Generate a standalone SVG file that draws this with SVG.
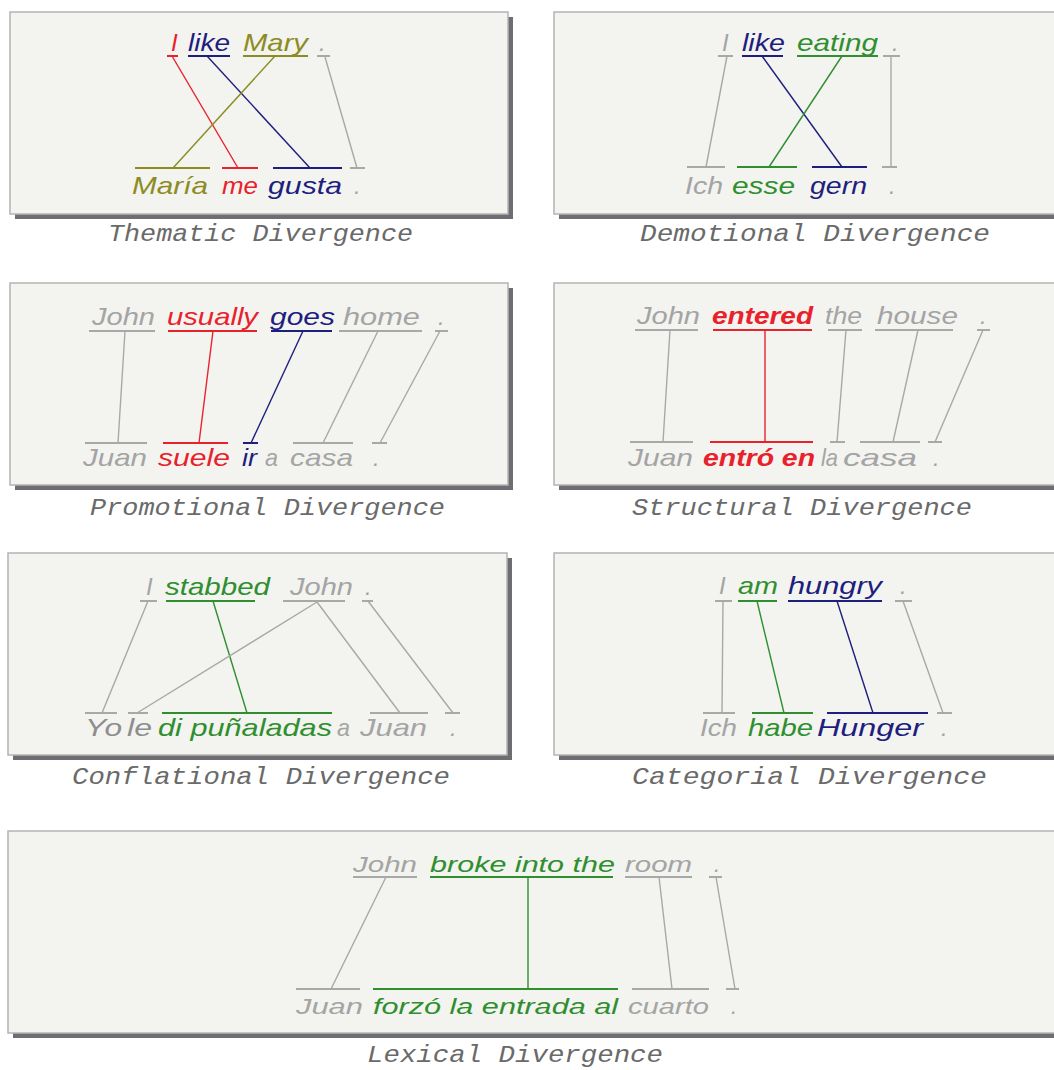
<svg xmlns="http://www.w3.org/2000/svg" width="1054" height="1070" viewBox="0 0 1054 1070">
<defs>
<style>
.box{fill:#f3f3f0;stroke:#b4b4b4;stroke-width:1.5}
.shadow{fill:#6e6e72}
.w{font-family:"Liberation Sans",Arial,sans-serif;font-style:italic;font-size:24px}
.w7{font-family:"Liberation Sans",Arial,sans-serif;font-style:italic;font-size:22px}
.cap{font-family:"Liberation Mono","Courier New",monospace;font-style:italic;font-size:23px;fill:#6a6a6a}
.g{fill:#a4a4a4}.r{fill:#e8212b}.b{fill:#1e1e7e}.o{fill:#8c8c22}.gr{fill:#2f8f2f}.dg{fill:#8e8e8e}
.u{stroke-width:2;fill:none}
.c{stroke-width:1.4;fill:none}
.sg{stroke:#a8a8a8}.sr{stroke:#e8212b}.sb{stroke:#1e1e7e}.so{stroke:#8c8c22}.sgr{stroke:#2f8f2f}
</style>
</defs>
<rect width="1054" height="1070" fill="#ffffff"/>

<!-- Panel 1 -->
<g id="panel-thematic">
<rect class="shadow" x="15" y="17" width="498" height="202"/>
<rect class="box" x="10" y="12" width="498" height="202"/>
<text class="w r" x="171" y="51">I</text>
<text class="w b" x="188" y="51" textLength="42" lengthAdjust="spacingAndGlyphs">like</text>
<text class="w o" x="243" y="51" textLength="65" lengthAdjust="spacingAndGlyphs">Mary</text>
<text class="w g" x="319" y="51">.</text>
<text class="w o" x="132" y="194" textLength="76" lengthAdjust="spacingAndGlyphs">María</text>
<text class="w r" x="222" y="194" textLength="36" lengthAdjust="spacingAndGlyphs">me</text>
<text class="w b" x="268" y="194" textLength="74" lengthAdjust="spacingAndGlyphs">gusta</text>
<text class="w g" x="354" y="194">.</text>
<path class="u sr" d="M167 56H178M222 168H258"/>
<path class="u sb" d="M188 56H230M273 168H342"/>
<path class="u so" d="M243 56H308M135 168H210"/>
<path class="u sg" d="M317 56H330M350 168H365"/>
<text class="cap" x="108" y="241" textLength="305" lengthAdjust="spacingAndGlyphs">Thematic Divergence</text>
</g>

<!-- Panel 2 -->
<g id="panel-demotional">
<rect class="shadow" x="559" y="17" width="500" height="202"/>
<rect class="box" x="554" y="12" width="510" height="202"/>
<text class="w g" x="722" y="51">I</text>
<text class="w b" x="742" y="51" textLength="43" lengthAdjust="spacingAndGlyphs">like</text>
<text class="w gr" x="797" y="51" textLength="81" lengthAdjust="spacingAndGlyphs">eating</text>
<text class="w g" x="892" y="51">.</text>
<text class="w g" x="685" y="194" textLength="38" lengthAdjust="spacingAndGlyphs">Ich</text>
<text class="w gr" x="732" y="194" textLength="63" lengthAdjust="spacingAndGlyphs">esse</text>
<text class="w b" x="810" y="194" textLength="57" lengthAdjust="spacingAndGlyphs">gern</text>
<text class="w g" x="889" y="194">.</text>
<path class="u sg" d="M718 56H733M883 56H900M687 167H725M882 167H897"/>
<path class="u sb" d="M742 56H783M812 167H867"/>
<path class="u sgr" d="M797 56H878M737 167H797"/>
<text class="cap" x="640" y="241" textLength="350" lengthAdjust="spacingAndGlyphs">Demotional Divergence</text>
</g>

<!-- Panel 3 -->
<g id="panel-promotional">
<rect class="shadow" x="15" y="288" width="498" height="202"/>
<rect class="box" x="10" y="283" width="498" height="202"/>
<text class="w g" x="92" y="325" textLength="63" lengthAdjust="spacingAndGlyphs">John</text>
<text class="w r" x="167" y="325" textLength="91" lengthAdjust="spacingAndGlyphs">usually</text>
<text class="w b" x="270" y="325" textLength="65" lengthAdjust="spacingAndGlyphs">goes</text>
<text class="w g" x="343" y="325" textLength="77" lengthAdjust="spacingAndGlyphs">home</text>
<text class="w g" x="438" y="325">.</text>
<text class="w g" x="83" y="466" textLength="64" lengthAdjust="spacingAndGlyphs">Juan</text>
<text class="w r" x="158" y="466" textLength="72" lengthAdjust="spacingAndGlyphs">suele</text>
<text class="w b" x="242" y="466" textLength="15" lengthAdjust="spacingAndGlyphs">ir</text>
<text class="w g" x="265" y="466" textLength="13" lengthAdjust="spacingAndGlyphs">a</text>
<text class="w g" x="290" y="466" textLength="63" lengthAdjust="spacingAndGlyphs">casa</text>
<text class="w g" x="373" y="466">.</text>
<path class="u sg" d="M89 331H155M339 331H422M435 331H448M85 443H147M293 443H353M372 443H387"/>
<path class="u sr" d="M168 331H257M163 443H228"/>
<path class="u sb" d="M271 331H332M243 443H258"/>
<text class="cap" x="90" y="515" textLength="355" lengthAdjust="spacingAndGlyphs">Promotional Divergence</text>
</g>

<!-- Panel 4 -->
<g id="panel-structural">
<rect class="shadow" x="559" y="288" width="500" height="202"/>
<rect class="box" x="554" y="283" width="510" height="202"/>
<text class="w g" x="637" y="324" textLength="63" lengthAdjust="spacingAndGlyphs">John</text>
<text class="w r" x="712" y="324" textLength="101" lengthAdjust="spacingAndGlyphs" font-weight="bold">entered</text>
<text class="w g" x="825" y="324" textLength="37" lengthAdjust="spacingAndGlyphs">the</text>
<text class="w g" x="877" y="324" textLength="81" lengthAdjust="spacingAndGlyphs">house</text>
<text class="w g" x="980" y="324">.</text>
<text class="w g" x="628" y="466" textLength="65" lengthAdjust="spacingAndGlyphs">Juan</text>
<text class="w r" x="703" y="466" textLength="112" lengthAdjust="spacingAndGlyphs" font-weight="bold">entró en</text>
<text class="w g" x="821" y="466" textLength="17" lengthAdjust="spacingAndGlyphs">la</text>
<text class="w g" x="843" y="466" textLength="74" lengthAdjust="spacingAndGlyphs">casa</text>
<text class="w g" x="933" y="466">.</text>
<path class="u sg" d="M635 330H698M828 330H862M875 330H953M977 330H990M630 442H693M830 442H845M860 442H920M928 442H942"/>
<path class="u sr" d="M713 330H812M710 442H813"/>
<text class="cap" x="632" y="515" textLength="340" lengthAdjust="spacingAndGlyphs">Structural Divergence</text>
</g>

<!-- Panel 5 -->
<g id="panel-conflational">
<rect class="shadow" x="13" y="558" width="499" height="202"/>
<rect class="box" x="8" y="553" width="499" height="202"/>
<text class="w g" x="146" y="595">I</text>
<text class="w gr" x="165" y="595" textLength="105" lengthAdjust="spacingAndGlyphs">stabbed</text>
<text class="w g" x="290" y="595" textLength="63" lengthAdjust="spacingAndGlyphs">John</text>
<text class="w g" x="365" y="595">.</text>
<text class="w dg" x="85" y="736" textLength="37" lengthAdjust="spacingAndGlyphs">Yo</text>
<text class="w dg" x="127" y="736" textLength="25" lengthAdjust="spacingAndGlyphs">le</text>
<text class="w gr" x="158" y="736" textLength="174" lengthAdjust="spacingAndGlyphs">di puñaladas</text>
<text class="w g" x="337" y="736" textLength="13" lengthAdjust="spacingAndGlyphs">a</text>
<text class="w g" x="360" y="736" textLength="67" lengthAdjust="spacingAndGlyphs">Juan</text>
<text class="w g" x="450" y="736">.</text>
<path class="u sg" d="M140 601H157M283 601H345M362 601H373M85 713H117M128 713H148M370 713H428M445 713H460"/>
<path class="u sgr" d="M166 601H255M162 713H332"/>
<text class="cap" x="72" y="784" textLength="378" lengthAdjust="spacingAndGlyphs">Conflational Divergence</text>
</g>

<!-- Panel 6 -->
<g id="panel-categorial">
<rect class="shadow" x="559" y="558" width="500" height="202"/>
<rect class="box" x="554" y="553" width="510" height="202"/>
<text class="w g" x="719" y="594">I</text>
<text class="w gr" x="738" y="594" textLength="40" lengthAdjust="spacingAndGlyphs">am</text>
<text class="w b" x="788" y="594" textLength="94" lengthAdjust="spacingAndGlyphs">hungry</text>
<text class="w g" x="900" y="594">.</text>
<text class="w g" x="700" y="736" textLength="37" lengthAdjust="spacingAndGlyphs">Ich</text>
<text class="w gr" x="748" y="736" textLength="65" lengthAdjust="spacingAndGlyphs">habe</text>
<text class="w b" x="817" y="736" textLength="106" lengthAdjust="spacingAndGlyphs">Hunger</text>
<text class="w g" x="941" y="736">.</text>
<path class="u sg" d="M715 601H732M895 601H912M703 713H735M937 713H952"/>
<path class="u sgr" d="M738 601H777M752 713H813"/>
<path class="u sb" d="M788 601H882M827 713H928"/>
<text class="cap" x="632" y="784" textLength="355" lengthAdjust="spacingAndGlyphs">Categorial Divergence</text>
</g>

<!-- Panel 7 -->
<g id="panel-lexical">
<rect class="shadow" x="13" y="836" width="1050" height="202"/>
<rect class="box" x="8" y="831" width="1060" height="202"/>
<text class="w7 g" x="353" y="872" textLength="64" lengthAdjust="spacingAndGlyphs">John</text>
<text class="w7 gr" x="430" y="872" textLength="185" lengthAdjust="spacingAndGlyphs">broke into the</text>
<text class="w7 g" x="625" y="872" textLength="67" lengthAdjust="spacingAndGlyphs">room</text>
<text class="w7 g" x="714" y="872">.</text>
<text class="w7 g" x="296" y="1014" textLength="67" lengthAdjust="spacingAndGlyphs">Juan</text>
<text class="w7 gr" x="373" y="1014" textLength="245" lengthAdjust="spacingAndGlyphs">forzó la entrada al</text>
<text class="w7 g" x="628" y="1014" textLength="81" lengthAdjust="spacingAndGlyphs">cuarto</text>
<text class="w7 g" x="731" y="1014">.</text>
<path class="u sg" d="M353 877H417M625 877H692M709 877H722M296 989H360M632 989H709M726 989H739"/>
<path class="u sgr" d="M430 877H613M373 989H618"/>
<text class="cap" x="367" y="1062" textLength="296" lengthAdjust="spacingAndGlyphs">Lexical Divergence</text>
</g>

<!-- Connectors -->
<g id="connectors">
<g id="conn-thematic">
<path class="c sr" d="M172 56L238 168"/>
<path class="c sb" d="M207 56L310 168"/>
<path class="c so" d="M275 56L173 168"/>
<path class="c sg" d="M325 57L357 168"/>
</g>
<g id="conn-demotional">
<path class="c sg" d="M727 56L706 167"/>
<path class="c sb" d="M762 56L842 167"/>
<path class="c sgr" d="M842 56L769 167"/>
<path class="c sg" d="M891 56L891 167"/>
</g>
<g id="conn-promotional">
<path class="c sg" d="M125 331L118 443"/>
<path class="c sr" d="M213 331L199 443"/>
<path class="c sb" d="M303 331L251 443"/>
<path class="c sg" d="M378 331L323 443"/>
<path class="c sg" d="M440 331L380 443"/>
</g>
<g id="conn-structural">
<path class="c sg" d="M670 330L663 442"/>
<path class="c sr" d="M765 330L765 442"/>
<path class="c sg" d="M846 330L837 442"/>
<path class="c sg" d="M918 330L893 442"/>
<path class="c sg" d="M983 330L935 442"/>
</g>
<g id="conn-conflational">
<path class="c sg" d="M148 601L102 713"/>
<path class="c sgr" d="M213 601L247 713"/>
<path class="c sg" d="M317 602L137 713"/>
<path class="c sg" d="M317 602L400 713"/>
<path class="c sg" d="M368 601L453 713"/>
</g>
<g id="conn-categorial">
<path class="c sg" d="M723 601L722 713"/>
<path class="c sgr" d="M757 601L784 713"/>
<path class="c sb" d="M837 601L873 713"/>
<path class="c sg" d="M903 601L943 713"/>
</g>
<g id="conn-lexical">
<path class="c sg" d="M386 877L331 989"/>
<path class="c sgr" d="M528 877L528 989"/>
<path class="c sg" d="M659 877L672 989"/>
<path class="c sg" d="M716 877L735 989"/>
</g>
</g>
</svg>
